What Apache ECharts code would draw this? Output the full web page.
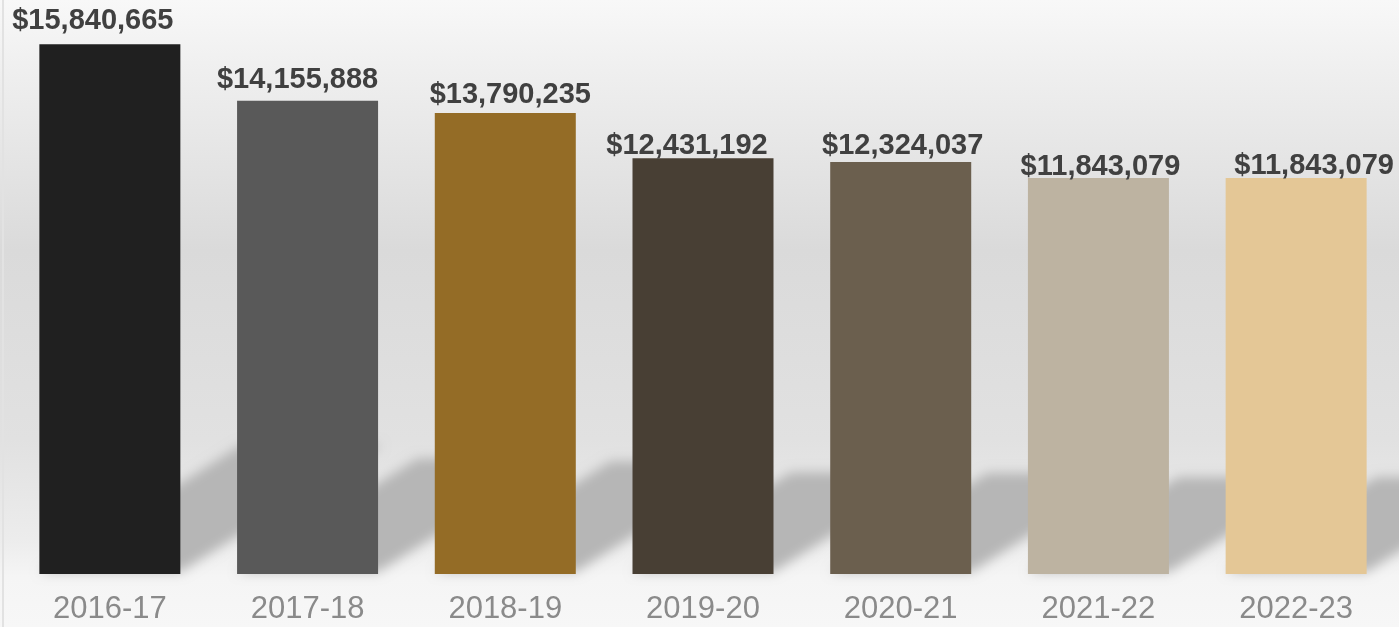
<!DOCTYPE html>
<html>
<head>
<meta charset="utf-8">
<script src="https://cdn.jsdelivr.net/npm/echarts@6/dist/echarts.min.js"></script>
<style>
  html, body { margin: 0; padding: 0; }
  #chart { width: 1399px; height: 627px; }
</style>
</head>
<body>
<div id="chart"></div>
<script>
// 年度数据
const years = ["2016-17", "2017-18", "2018-19", "2019-20", "2020-21", "2021-22", "2022-23"];
const amounts = [15840665, 14155888, 13790235, 12431192, 12324037, 11843079, 11843079];
const barColors = ["#202020", "#595959", "#946c26", "#483f34", "#6b5f4e", "#bdb3a1", "#e4c796"];

// 标签的手动偏移（原图中标签不是居中的）
const labelShift = [[-17, -7], [-10, -4], [5, -1], [-16, 4], [2, 1], [2, 6], [18, 5]];

let myChart = echarts.init(document.getElementById("chart"));

const FAR = 3000; // 阴影图形画在画布外，只留下模糊的投影

let option = {
  animation: false,
  graphic: [
    {
      type: "rect",
      z: -10,
      silent: true,
      shape: { x: 0, y: 0, width: 1399, height: 627 },
      style: {
        fill: new echarts.graphic.LinearGradient(0, 0, 0, 1, [
          { offset: 0, color: "#f8f8f8" },
          { offset: 0.1, color: "#f0f0f0" },
          { offset: 0.4, color: "#dadada" },
          { offset: 0.7, color: "#e1e1e1" },
          { offset: 0.86, color: "#ececec" },
          { offset: 0.92, color: "#f5f5f5" },
          { offset: 1, color: "#f7f7f7" },
        ]),
      },
    },
    {
      // 左边框
      type: "rect",
      z: -9,
      silent: true,
      shape: { x: 2, y: 0, width: 2, height: 627 },
      style: { fill: "#e2e2e2" },
    },
  ],
  grid: {
    left: 11,
    right: 4,
    top: 39,
    bottom: 53,
  },
  xAxis: {
    type: "category",
    data: years,
    axisLine: { show: false },
    axisTick: { show: false },
    axisLabel: {
      color: "#8a8a8a",
      fontSize: 31,
      fontFamily: "Liberation Sans",
      margin: 20,
    },
  },
  yAxis: {
    type: "value",
    min: 0,
    max: 16000000,
    show: false,
    splitLine: { show: false },
  },
  series: [
    {
      // 柱子后面的斜阴影（透视投影）
      type: "custom",
      z: 1,
      silent: true,
      data: amounts,
      renderItem: function (params, api) {
        let base = api.coord([api.value(0), 0]);
        let top = api.coord([api.value(0), api.value(1)]);
        let h = base[1] - top[1];
        let sh = h * 0.24;
        let dx = sh / 0.63;
        let xl = base[0] - 70.5 - FAR;
        let xr = base[0] + 70.5 - FAR;
        let y0 = base[1] - 2;
        return {
          type: "polygon",
          shape: {
            points: [
              [xl, y0],
              [xr, y0],
              [xr + dx, y0 - sh],
              [xl + dx, y0 - sh],
            ],
          },
          style: {
            fill: "#b8b8b8",
            shadowBlur: 12,
            shadowOffsetX: FAR,
            shadowColor: "#b6b6b6",
          },
        };
      },
      encode: { x: 0, y: 1 },
    },
    {
      type: "bar",
      z: 2,
      barWidth: 141,
      data: amounts.map((v, i) => ({
        value: v,
        itemStyle: { color: barColors[i] },
        label: { offset: labelShift[i] },
      })),
      label: {
        show: true,
        position: "top",
        distance: 2,
        color: "#404040",
        fontSize: 29,
        fontWeight: "bold",
        fontFamily: "Liberation Sans",
        formatter: (p) => "$" + p.value.toLocaleString("en-US"),
      },
    },
  ],
};

myChart.setOption(option);
</script>
</body>
</html>
